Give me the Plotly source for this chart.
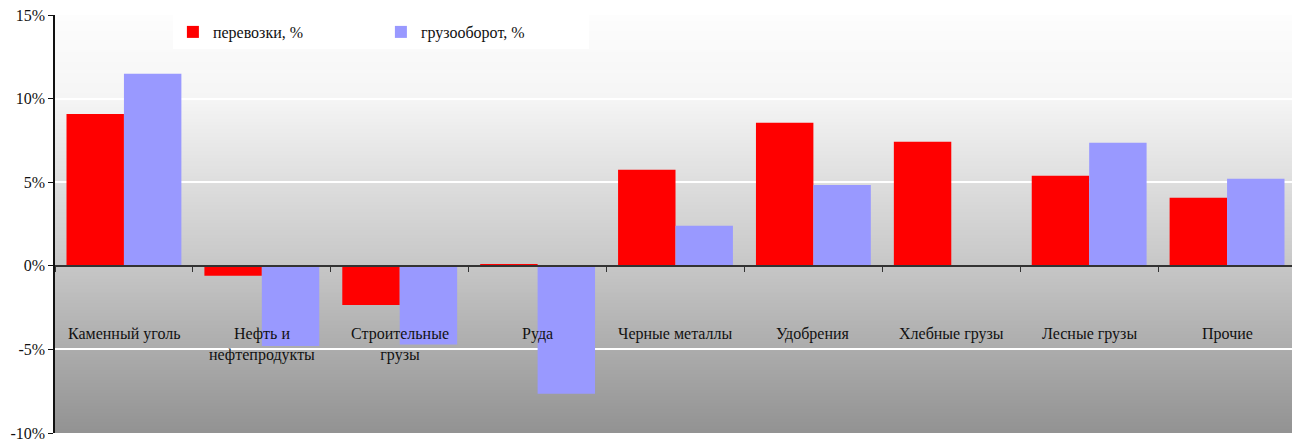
import base64
import struct
import zlib
import plotly.graph_objects as go

categories = ["Каменный уголь", "Нефть и<br>нефтепродукты", "Строительные<br>грузы", "Руда",
              "Черные металлы", "Удобрения", "Хлебные грузы", "Лесные грузы", "Прочие"]
perevozki = [9.08, -0.6, -2.35, 0.05, 5.74, 8.55, 7.42, 5.38, 4.07]
gruzooborot = [11.48, -4.8, -4.7, -7.65, 2.39, 4.84, 0.0, 7.36, 5.2]
series_names = ["перевозки, %", "грузооборот, %"]
y_ticks = [-10, -5, 0, 5, 10, 15]
y_tick_text = ["-10%", "-5%", "0%", "5%", "10%", "15%"]

FONT = "Liberation Serif"
ymin, ymax = -10, 15


# ---- vertical gray gradient for the plot background (styling only) ----
def gradient_png():
    stops = [(0.0, 253), (0.2, 245), (0.4, 222), (0.6, 199), (0.8, 172), (1.0, 147)]  # from top
    h = 256
    rows = b""
    for r in range(h):
        t = r / (h - 1)
        for (t0, v0), (t1, v1) in zip(stops[:-1], stops[1:]):
            if t0 <= t <= t1:
                v = int(round(v0 + (v1 - v0) * (t - t0) / (t1 - t0)))
                break
        rows += b"\x00" + bytes([v, v, v])
    def chunk(tag, data):
        c = struct.pack(">I", len(data)) + tag + data
        return c + struct.pack(">I", zlib.crc32(tag + data) & 0xFFFFFFFF)
    png = b"\x89PNG\r\n\x1a\n"
    png += chunk(b"IHDR", struct.pack(">IIBBBBB", 1, h, 8, 2, 0, 0, 0))
    png += chunk(b"IDAT", zlib.compress(rows))
    png += chunk(b"IEND", b"")
    return "data:image/png;base64," + base64.b64encode(png).decode()


fig = go.Figure()
fig.add_trace(go.Bar(x=categories, y=perevozki, name=series_names[0],
                     marker=dict(color="#ff0000", line=dict(width=0))))
fig.add_trace(go.Bar(x=categories, y=gruzooborot, name=series_names[1],
                     marker=dict(color="#9999ff", line=dict(width=0))))

annotations = []
for c in categories:
    annotations.append(dict(x=c, y=-3.4, xref="x", yref="y", text=c, showarrow=False,
                            yanchor="top", xanchor="center",
                            font=dict(family=FONT, size=16, color="#111111")))

fig.update_layout(
    width=1292, height=433,
    margin=dict(l=47, r=4, t=7, b=8, autoexpand=False),
    paper_bgcolor="white", plot_bgcolor="white",
    barmode="group", bargap=0.167, bargroupgap=0,
    images=[dict(source=gradient_png(), xref="paper", yref="y", x=0, y=ymax,
                 sizex=1, sizey=ymax - ymin, sizing="stretch", layer="below",
                 xanchor="left", yanchor="top")],
    annotations=annotations,
    font=dict(family=FONT, size=16, color="#111111"),
    showlegend=True,
    legend=dict(orientation="h", x=0.095, y=1.0, xanchor="left", yanchor="top",
                bgcolor="rgba(255,255,255,0.85)", entrywidth=163, entrywidthmode="pixels",
                font=dict(family=FONT, size=16, color="#111111"), itemwidth=30,
                traceorder="normal"),
    xaxis=dict(type="category", anchor="free", position=0.4, showticklabels=False,
               showline=True, linecolor="#333333", linewidth=1.5,
               ticks="outside", tickson="boundaries", ticklen=5, tickcolor="#333333",
               showgrid=False, zeroline=False),
    yaxis=dict(range=[ymin, ymax], tickmode="array", tickvals=y_ticks, ticktext=y_tick_text,
               showline=True, linecolor="#111111", linewidth=1.5,
               ticks="outside", ticklen=5, tickcolor="#111111", ticklabeloverflow="allow",
               showgrid=True, gridcolor="white", gridwidth=1.5, zeroline=False,
               tickfont=dict(family=FONT, size=16, color="#111111")),
)

fig.write_html("out.html")
